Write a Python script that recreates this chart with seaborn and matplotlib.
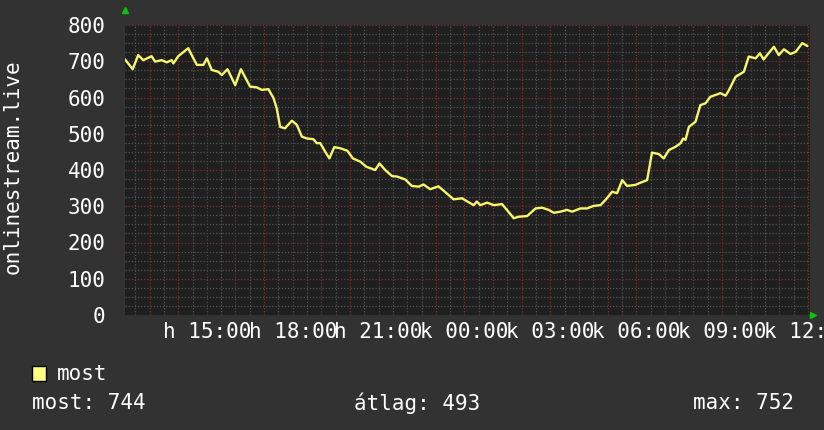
import matplotlib
matplotlib.use("Agg")
import matplotlib.pyplot as plt
import numpy as np
import pandas as pd
import seaborn as sns
from matplotlib.patches import Rectangle

# hours since midnight of day 1 (values > 24 are the next day)
hours = [12.14, 12.41, 12.60, 12.78, 13.07, 13.19, 13.42, 13.60, 13.77, 13.83,
         14.00, 14.35, 14.47, 14.65, 14.88, 15.00, 15.17, 15.40, 15.52, 15.72,
         15.99, 16.19, 16.51, 16.74, 16.92, 17.15, 17.33, 17.44, 17.56, 17.73,
         17.97, 18.14, 18.32, 18.49, 18.72, 18.84, 18.96, 19.13, 19.28, 19.45,
         19.66, 19.91, 20.10, 20.36, 20.57, 20.88, 21.03, 21.23, 21.47, 21.64,
         21.93, 22.16, 22.40, 22.57, 22.80, 23.09, 23.27, 23.62, 23.91, 24.32,
         24.43, 24.55, 24.79, 25.02, 25.31, 25.48, 25.72, 25.89, 26.19, 26.48,
         26.71, 26.94, 27.12, 27.35, 27.58, 27.76, 28.05, 28.28, 28.51, 28.75,
         28.92, 29.16, 29.33, 29.51, 29.68, 29.97, 30.15, 30.38, 30.55, 30.79,
         30.96, 31.14, 31.37, 31.55, 31.64, 31.72, 31.84, 32.07, 32.24, 32.42,
         32.59, 32.77, 32.94, 33.12, 33.23, 33.47, 33.76, 33.93, 34.17, 34.32,
         34.45, 34.57, 34.81, 34.98, 35.16, 35.39, 35.57, 35.80, 35.98]
viewers = [705, 678, 717, 703, 714, 699, 703, 697, 703, 694,
           714, 736, 717, 690, 690, 708, 676, 671, 662, 678,
           634, 678, 630, 628, 621, 623, 598, 570, 519, 515,
           536, 525, 492, 487, 485, 474, 474, 451, 432, 463,
           460, 453, 432, 423, 409, 400, 418, 400, 383, 382,
           374, 356, 354, 360, 347, 355, 343, 319, 322, 303,
           313, 303, 310, 303, 306, 290, 267, 271, 273, 294,
           296, 290, 282, 285, 290, 285, 294, 294, 301, 303,
           317, 340, 336, 372, 356, 359, 365, 372, 448, 444,
           432, 455, 464, 474, 487, 483, 519, 533, 579, 584,
           602, 607, 612, 605, 619, 657, 671, 713, 708, 722,
           705, 717, 740, 717, 733, 720, 726, 750, 742]

tick_hours = [15, 18, 21, 24, 27, 30, 33, 36]
tick_labels = ["h 15:00", "h 18:00", "h 21:00", "k 00:00",
               "k 03:00", "k 06:00", "k 09:00", "k 12:00"]
y_ticks = [0, 100, 200, 300, 400, 500, 600, 700, 800]

series_name = "most"
ylabel = "onlinestream.live"
stat_most = "most: 744"
stat_avg = "átlag: 493"
stat_max = "max: 752"

df = pd.DataFrame({"hour": hours, "value": viewers})

sns.set_style("dark")
plt.rcParams["font.family"] = ["DejaVu Sans Mono", "DejaVu Sans"]

bg = "#323232"
canvas = "#1f1f1f"
W, H = 824, 430
fig = plt.figure(figsize=(W / 100, H / 100), dpi=100, facecolor=bg)
ax = fig.add_axes([125 / W, 1 - 315 / H, 685 / W, 290 / H])
ax.set_facecolor(canvas)

# grid: minor grey, major red
for v in np.arange(0, 801, 25):
    if v % 100:
        ax.axhline(v, color="#555555", lw=0.9, ls=(0, (1, 1.5)), zorder=1)
for h in np.arange(12.5, 36.1, 0.5):
    if h % 1:
        ax.axvline(h, color="#555555", lw=0.9, ls=(0, (1, 1.5)), zorder=1)
for v in y_ticks[1:]:
    ax.axhline(v, color="#7a3434", lw=0.9, ls=(0, (1, 1.5)), zorder=1)
for h in range(13, 37):
    ax.axvline(h, color="#7a3434", lw=0.9, ls=(0, (1, 1.5)), zorder=1)

sns.lineplot(data=df, x="hour", y="value", ax=ax, color="#f7f76a", lw=1.7, zorder=3)

ax.set_xlim(12.14, 36.07)
ax.set_ylim(0, 800)
ax.set_xticks(tick_hours)
ax.set_xticklabels(tick_labels)
ax.set_yticks(y_ticks)
ax.set_xlabel("")
ax.set_ylabel("")
ax.tick_params(axis="both", length=0, colors="white", labelsize=15)
ax.tick_params(axis="x", pad=5)
ax.tick_params(axis="y", pad=14)
for s in ax.spines.values():
    s.set_visible(False)

# axis arrows
ax.plot([0], [1.052], marker="^", color="#10c010", ms=5, transform=ax.transAxes, clip_on=False)
ax.plot([1.005], [0], marker=">", color="#10c010", ms=5, transform=ax.transAxes, clip_on=False)

fig.text(13 / W, 1 - 167 / H, ylabel, rotation=90, color="white", fontsize=15,
         ha="center", va="center")

# legend and stats
fig.patches.append(Rectangle((32 / W, 1 - 381 / H), 14 / W, 15 / H, transform=fig.transFigure,
                             facecolor="#ffff80", edgecolor="black", lw=1))
fig.text(57 / W, 1 - 374 / H, series_name, color="white", fontsize=15, va="center")
fig.text(32 / W, 1 - 403 / H, stat_most, color="white", fontsize=15, va="center")
fig.text(354 / W, 1 - 403 / H, stat_avg, color="white", fontsize=15, va="center")
fig.text(794 / W, 1 - 403 / H, stat_max, color="white", fontsize=15, va="center", ha="right")

fig.savefig("out.png", dpi=100, facecolor=bg)
